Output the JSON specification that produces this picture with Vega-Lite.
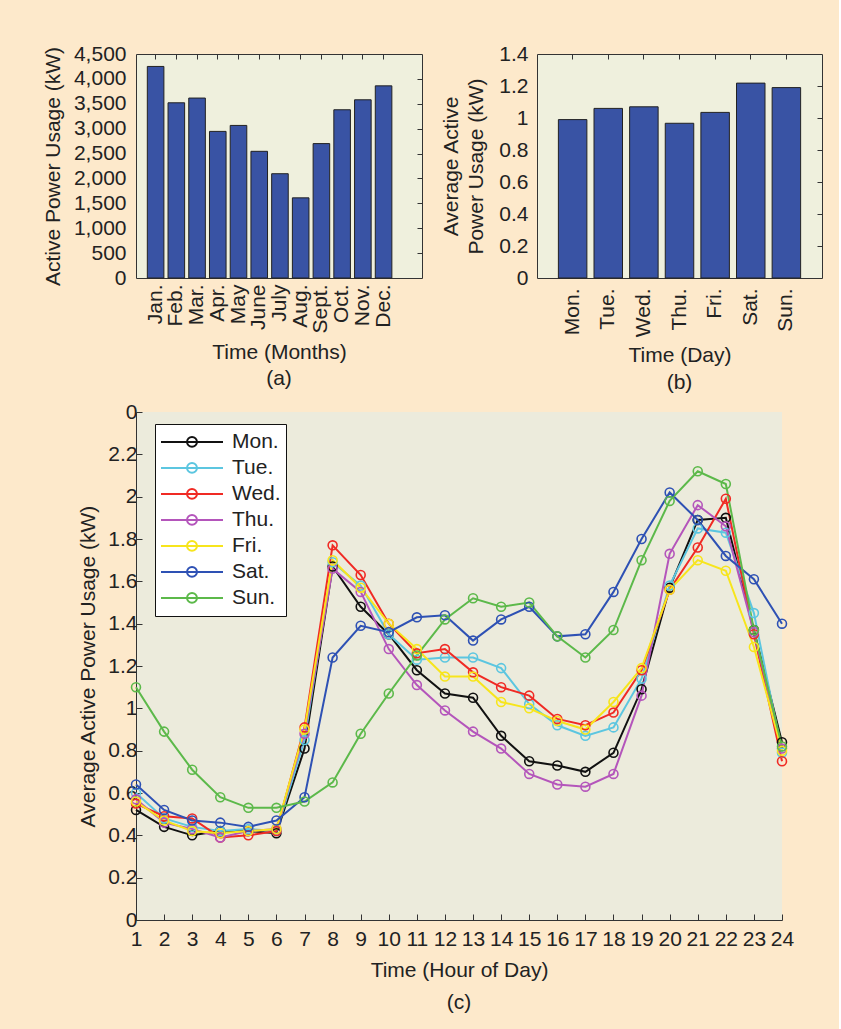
{
  "$schema": "https://vega.github.io/schema/vega-lite/v6.json",
  "background": "#fde9cb",
  "padding": {"left": 41, "top": 42, "right": 16, "bottom": 16},
  "config": {
    "font": "Liberation Sans",
    "axis": {
      "labelFont": "Liberation Sans", "titleFont": "Liberation Sans",
      "labelFontSize": 21, "titleFontSize": 21, "titleFontWeight": "normal",
      "labelColor": "#222", "titleColor": "#222",
      "domainColor": "#333", "tickColor": "#333", "grid": false
    },
    "title": {"font": "Liberation Sans", "fontSize": 21, "fontWeight": "normal", "color": "#222"},
    "view": {"stroke": null}
  },
  "datasets": {
    "monthly": [
      {"month": "Jan.", "kW": 4250}, {"month": "Feb.", "kW": 3520}, {"month": "Mar.", "kW": 3615},
      {"month": "Apr.", "kW": 2945}, {"month": "May", "kW": 3065}, {"month": "June", "kW": 2545},
      {"month": "July", "kW": 2095}, {"month": "Aug.", "kW": 1610}, {"month": "Sept.", "kW": 2700},
      {"month": "Oct.", "kW": 3380}, {"month": "Nov.", "kW": 3580}, {"month": "Dec.", "kW": 3860}
    ],
    "daily": [
      {"day": "Mon.", "kW": 0.99}, {"day": "Tue.", "kW": 1.06}, {"day": "Wed.", "kW": 1.07},
      {"day": "Thu.", "kW": 0.967}, {"day": "Fri.", "kW": 1.035}, {"day": "Sat.", "kW": 1.218},
      {"day": "Sun.", "kW": 1.19}
    ],
    "hourly": [
      {"day": "Mon.", "hour": 1, "kW": 0.52}, {"day": "Mon.", "hour": 2, "kW": 0.44}, {"day": "Mon.", "hour": 3, "kW": 0.40},
      {"day": "Mon.", "hour": 4, "kW": 0.42}, {"day": "Mon.", "hour": 5, "kW": 0.42}, {"day": "Mon.", "hour": 6, "kW": 0.41},
      {"day": "Mon.", "hour": 7, "kW": 0.81}, {"day": "Mon.", "hour": 8, "kW": 1.67}, {"day": "Mon.", "hour": 9, "kW": 1.48},
      {"day": "Mon.", "hour": 10, "kW": 1.35}, {"day": "Mon.", "hour": 11, "kW": 1.18}, {"day": "Mon.", "hour": 12, "kW": 1.07},
      {"day": "Mon.", "hour": 13, "kW": 1.05}, {"day": "Mon.", "hour": 14, "kW": 0.87}, {"day": "Mon.", "hour": 15, "kW": 0.75},
      {"day": "Mon.", "hour": 16, "kW": 0.73}, {"day": "Mon.", "hour": 17, "kW": 0.70}, {"day": "Mon.", "hour": 18, "kW": 0.79},
      {"day": "Mon.", "hour": 19, "kW": 1.09}, {"day": "Mon.", "hour": 20, "kW": 1.57}, {"day": "Mon.", "hour": 21, "kW": 1.89},
      {"day": "Mon.", "hour": 22, "kW": 1.90}, {"day": "Mon.", "hour": 23, "kW": 1.37}, {"day": "Mon.", "hour": 24, "kW": 0.84},

      {"day": "Tue.", "hour": 1, "kW": 0.60}, {"day": "Tue.", "hour": 2, "kW": 0.48}, {"day": "Tue.", "hour": 3, "kW": 0.44},
      {"day": "Tue.", "hour": 4, "kW": 0.42}, {"day": "Tue.", "hour": 5, "kW": 0.43}, {"day": "Tue.", "hour": 6, "kW": 0.42},
      {"day": "Tue.", "hour": 7, "kW": 0.85}, {"day": "Tue.", "hour": 8, "kW": 1.69}, {"day": "Tue.", "hour": 9, "kW": 1.58},
      {"day": "Tue.", "hour": 10, "kW": 1.35}, {"day": "Tue.", "hour": 11, "kW": 1.23}, {"day": "Tue.", "hour": 12, "kW": 1.24},
      {"day": "Tue.", "hour": 13, "kW": 1.24}, {"day": "Tue.", "hour": 14, "kW": 1.19}, {"day": "Tue.", "hour": 15, "kW": 1.02},
      {"day": "Tue.", "hour": 16, "kW": 0.92}, {"day": "Tue.", "hour": 17, "kW": 0.87}, {"day": "Tue.", "hour": 18, "kW": 0.91},
      {"day": "Tue.", "hour": 19, "kW": 1.14}, {"day": "Tue.", "hour": 20, "kW": 1.58}, {"day": "Tue.", "hour": 21, "kW": 1.85},
      {"day": "Tue.", "hour": 22, "kW": 1.83}, {"day": "Tue.", "hour": 23, "kW": 1.45}, {"day": "Tue.", "hour": 24, "kW": 0.79},

      {"day": "Wed.", "hour": 1, "kW": 0.55}, {"day": "Wed.", "hour": 2, "kW": 0.49}, {"day": "Wed.", "hour": 3, "kW": 0.48},
      {"day": "Wed.", "hour": 4, "kW": 0.39}, {"day": "Wed.", "hour": 5, "kW": 0.40}, {"day": "Wed.", "hour": 6, "kW": 0.42},
      {"day": "Wed.", "hour": 7, "kW": 0.91}, {"day": "Wed.", "hour": 8, "kW": 1.77}, {"day": "Wed.", "hour": 9, "kW": 1.63},
      {"day": "Wed.", "hour": 10, "kW": 1.40}, {"day": "Wed.", "hour": 11, "kW": 1.26}, {"day": "Wed.", "hour": 12, "kW": 1.28},
      {"day": "Wed.", "hour": 13, "kW": 1.17}, {"day": "Wed.", "hour": 14, "kW": 1.10}, {"day": "Wed.", "hour": 15, "kW": 1.06},
      {"day": "Wed.", "hour": 16, "kW": 0.95}, {"day": "Wed.", "hour": 17, "kW": 0.92}, {"day": "Wed.", "hour": 18, "kW": 0.98},
      {"day": "Wed.", "hour": 19, "kW": 1.18}, {"day": "Wed.", "hour": 20, "kW": 1.56}, {"day": "Wed.", "hour": 21, "kW": 1.76},
      {"day": "Wed.", "hour": 22, "kW": 1.99}, {"day": "Wed.", "hour": 23, "kW": 1.35}, {"day": "Wed.", "hour": 24, "kW": 0.75},

      {"day": "Thu.", "hour": 1, "kW": 0.57}, {"day": "Thu.", "hour": 2, "kW": 0.46}, {"day": "Thu.", "hour": 3, "kW": 0.43},
      {"day": "Thu.", "hour": 4, "kW": 0.39}, {"day": "Thu.", "hour": 5, "kW": 0.42}, {"day": "Thu.", "hour": 6, "kW": 0.43},
      {"day": "Thu.", "hour": 7, "kW": 0.88}, {"day": "Thu.", "hour": 8, "kW": 1.66}, {"day": "Thu.", "hour": 9, "kW": 1.55},
      {"day": "Thu.", "hour": 10, "kW": 1.28}, {"day": "Thu.", "hour": 11, "kW": 1.11}, {"day": "Thu.", "hour": 12, "kW": 0.99},
      {"day": "Thu.", "hour": 13, "kW": 0.89}, {"day": "Thu.", "hour": 14, "kW": 0.81}, {"day": "Thu.", "hour": 15, "kW": 0.69},
      {"day": "Thu.", "hour": 16, "kW": 0.64}, {"day": "Thu.", "hour": 17, "kW": 0.63}, {"day": "Thu.", "hour": 18, "kW": 0.69},
      {"day": "Thu.", "hour": 19, "kW": 1.06}, {"day": "Thu.", "hour": 20, "kW": 1.73}, {"day": "Thu.", "hour": 21, "kW": 1.96},
      {"day": "Thu.", "hour": 22, "kW": 1.86}, {"day": "Thu.", "hour": 23, "kW": 1.36}, {"day": "Thu.", "hour": 24, "kW": 0.81},

      {"day": "Fri.", "hour": 1, "kW": 0.56}, {"day": "Fri.", "hour": 2, "kW": 0.47}, {"day": "Fri.", "hour": 3, "kW": 0.42},
      {"day": "Fri.", "hour": 4, "kW": 0.41}, {"day": "Fri.", "hour": 5, "kW": 0.42}, {"day": "Fri.", "hour": 6, "kW": 0.43},
      {"day": "Fri.", "hour": 7, "kW": 0.90}, {"day": "Fri.", "hour": 8, "kW": 1.70}, {"day": "Fri.", "hour": 9, "kW": 1.57},
      {"day": "Fri.", "hour": 10, "kW": 1.40}, {"day": "Fri.", "hour": 11, "kW": 1.28}, {"day": "Fri.", "hour": 12, "kW": 1.15},
      {"day": "Fri.", "hour": 13, "kW": 1.15}, {"day": "Fri.", "hour": 14, "kW": 1.03}, {"day": "Fri.", "hour": 15, "kW": 1.00},
      {"day": "Fri.", "hour": 16, "kW": 0.94}, {"day": "Fri.", "hour": 17, "kW": 0.90}, {"day": "Fri.", "hour": 18, "kW": 1.03},
      {"day": "Fri.", "hour": 19, "kW": 1.19}, {"day": "Fri.", "hour": 20, "kW": 1.56}, {"day": "Fri.", "hour": 21, "kW": 1.70},
      {"day": "Fri.", "hour": 22, "kW": 1.65}, {"day": "Fri.", "hour": 23, "kW": 1.29}, {"day": "Fri.", "hour": 24, "kW": 0.80},

      {"day": "Sat.", "hour": 1, "kW": 0.64}, {"day": "Sat.", "hour": 2, "kW": 0.52}, {"day": "Sat.", "hour": 3, "kW": 0.47},
      {"day": "Sat.", "hour": 4, "kW": 0.46}, {"day": "Sat.", "hour": 5, "kW": 0.44}, {"day": "Sat.", "hour": 6, "kW": 0.47},
      {"day": "Sat.", "hour": 7, "kW": 0.58}, {"day": "Sat.", "hour": 8, "kW": 1.24}, {"day": "Sat.", "hour": 9, "kW": 1.39},
      {"day": "Sat.", "hour": 10, "kW": 1.36}, {"day": "Sat.", "hour": 11, "kW": 1.43}, {"day": "Sat.", "hour": 12, "kW": 1.44},
      {"day": "Sat.", "hour": 13, "kW": 1.32}, {"day": "Sat.", "hour": 14, "kW": 1.42}, {"day": "Sat.", "hour": 15, "kW": 1.48},
      {"day": "Sat.", "hour": 16, "kW": 1.34}, {"day": "Sat.", "hour": 17, "kW": 1.35}, {"day": "Sat.", "hour": 18, "kW": 1.55},
      {"day": "Sat.", "hour": 19, "kW": 1.80}, {"day": "Sat.", "hour": 20, "kW": 2.02}, {"day": "Sat.", "hour": 21, "kW": 1.89},
      {"day": "Sat.", "hour": 22, "kW": 1.72}, {"day": "Sat.", "hour": 23, "kW": 1.61}, {"day": "Sat.", "hour": 24, "kW": 1.40},

      {"day": "Sun.", "hour": 1, "kW": 1.10}, {"day": "Sun.", "hour": 2, "kW": 0.89}, {"day": "Sun.", "hour": 3, "kW": 0.71},
      {"day": "Sun.", "hour": 4, "kW": 0.58}, {"day": "Sun.", "hour": 5, "kW": 0.53}, {"day": "Sun.", "hour": 6, "kW": 0.53},
      {"day": "Sun.", "hour": 7, "kW": 0.56}, {"day": "Sun.", "hour": 8, "kW": 0.65}, {"day": "Sun.", "hour": 9, "kW": 0.88},
      {"day": "Sun.", "hour": 10, "kW": 1.07}, {"day": "Sun.", "hour": 11, "kW": 1.25}, {"day": "Sun.", "hour": 12, "kW": 1.42},
      {"day": "Sun.", "hour": 13, "kW": 1.52}, {"day": "Sun.", "hour": 14, "kW": 1.48}, {"day": "Sun.", "hour": 15, "kW": 1.50},
      {"day": "Sun.", "hour": 16, "kW": 1.34}, {"day": "Sun.", "hour": 17, "kW": 1.24}, {"day": "Sun.", "hour": 18, "kW": 1.37},
      {"day": "Sun.", "hour": 19, "kW": 1.70}, {"day": "Sun.", "hour": 20, "kW": 1.98}, {"day": "Sun.", "hour": 21, "kW": 2.12},
      {"day": "Sun.", "hour": 22, "kW": 2.06}, {"day": "Sun.", "hour": 23, "kW": 1.37}, {"day": "Sun.", "hour": 24, "kW": 0.82}
    ]
  },
  "spacing": 7,
  "resolve": {"legend": {"color": "independent"}},
  "vconcat": [
    {
      "spacing": 17,
      "hconcat": [
        {
          "width": 286, "height": 224,
          "view": {"fill": "#eff0dd", "stroke": "#333", "strokeWidth": 1},
          "data": {"name": "monthly"},
          "title": {"text": "(a)", "orient": "bottom", "frame": "group", "offset": 6},
          "layer": [
            {
              "mark": {"type": "bar", "fill": "#3953a4", "stroke": "#222", "strokeWidth": 1},
              "encoding": {
                "x": {
                  "field": "month", "type": "nominal", "sort": null,
                  "scale": {"paddingInner": 0.2, "paddingOuter": 1.1, "align": 0.273},
                  "axis": {"title": "Time (Months)", "labelAngle": 270, "labelAlign": "right", "labelBaseline": "middle",
                           "ticks": false, "domain": false, "labelPadding": 6, "titlePadding": 8, "labelOverlap": false}
                },
                "y": {
                  "field": "kW", "type": "quantitative",
                  "scale": {"domain": [0, 4500], "nice": false},
                  "axis": {"title": "Active Power Usage (kW)", "values": [0, 500, 1000, 1500, 2000, 2500, 3000, 3500, 4000, 4500],
                           "format": ",d", "ticks": false, "domain": false, "labelPadding": 10, "titlePadding": 10}
                }
              }
            },
            {
              "mark": {"type": "bar", "opacity": 0},
              "encoding": {
                "x": {"field": "month", "type": "nominal", "sort": null,
                      "axis": {"orient": "top", "labels": false, "title": null, "domain": false, "tickSize": -5}},
                "y": {"field": "kW", "type": "quantitative",
                      "axis": {"orient": "right", "labels": false, "title": null, "domain": false, "tickSize": -5,
                               "values": [500, 1000, 1500, 2000, 2500, 3000, 3500, 4000]}}
              }
            }
          ],
          "resolve": {"axis": {"x": "independent", "y": "independent"}}
        },
        {
          "width": 285, "height": 224,
          "view": {"fill": "#eff0dd", "stroke": "#333", "strokeWidth": 1},
          "data": {"name": "daily"},
          "title": {"text": "(b)", "orient": "bottom", "frame": "group", "offset": 6},
          "layer": [
            {
              "mark": {"type": "bar", "fill": "#3953a4", "stroke": "#222", "strokeWidth": 1},
              "encoding": {
                "x": {
                  "field": "day", "type": "nominal", "sort": null,
                  "scale": {"paddingInner": 0.2, "paddingOuter": 0.6, "align": 0.5},
                  "axis": {"title": "Time (Day)", "labelAngle": 270, "labelAlign": "right", "labelBaseline": "middle",
                           "ticks": false, "domain": false, "labelPadding": 10, "titlePadding": 8, "labelOverlap": false}
                },
                "y": {
                  "field": "kW", "type": "quantitative",
                  "scale": {"domain": [0, 1.4], "nice": false},
                  "axis": {"title": ["Average Active", "Power Usage (kW)"], "titleLineHeight": 25,
                           "values": [0, 0.2, 0.4, 0.6, 0.8, 1, 1.2, 1.4], "format": ".1~f",
                           "ticks": false, "domain": false, "labelPadding": 9, "titlePadding": 12}
                }
              }
            },
            {
              "mark": {"type": "bar", "opacity": 0},
              "encoding": {
                "x": {"field": "day", "type": "nominal", "sort": null,
                      "axis": {"orient": "top", "labels": false, "title": null, "domain": false, "tickSize": -5}},
                "y": {"field": "kW", "type": "quantitative",
                      "axis": {"orient": "right", "labels": false, "title": null, "domain": false, "tickSize": -5,
                               "values": [0.2, 0.4, 0.6, 0.8, 1, 1.2]}}
              }
            }
          ],
          "resolve": {"axis": {"x": "independent", "y": "independent"}}
        }
      ]
    },
    {
      "width": 646, "height": 508,
      "view": {"fill": "#ecebdc", "stroke": null},
      "data": {"name": "hourly"},
      "title": {"text": "(c)", "orient": "bottom", "frame": "group", "offset": 12},
      "encoding": {
        "x": {
          "field": "hour", "type": "quantitative",
          "scale": {"domain": [1, 24], "nice": false, "zero": false},
          "axis": {"title": "Time (Hour of Day)", "values": [1, 2, 3, 4, 5, 6, 7, 8, 9, 10, 11, 12, 13, 14, 15, 16, 17, 18, 19, 20, 21, 22, 23, 24],
                   "tickSize": -6, "labelPadding": 14, "titlePadding": 10, "labelOverlap": false, "labelFlush": false}
        },
        "y": {
          "field": "kW", "type": "quantitative",
          "scale": {"domain": [0, 2.4], "nice": false},
          "axis": {"title": "Average Active Power Usage (kW)",
                   "values": [0, 0.2, 0.4, 0.6, 0.8, 1, 1.2, 1.4, 1.6, 1.8, 2, 2.2, 2.4],
                   "labelExpr": "datum.value > 2.3 ? '0' : format(datum.value, '.1~f')",
                   "tickSize": -6, "labelPadding": 5, "titlePadding": 9, "labelFlush": false}
        },
        "color": {
          "field": "day", "type": "nominal",
          "scale": {
            "domain": ["Mon.", "Tue.", "Wed.", "Thu.", "Fri.", "Sat.", "Sun."],
            "range": ["#111111", "#5cc6e0", "#f02a24", "#b455bb", "#f7e51c", "#2e51b4", "#5cb94a"]
          },
          "legend": {
            "title": null, "orient": "none", "legendX": 19, "legendY": 12,
            "fillColor": "#ffffff", "strokeColor": "#111111", "padding": 5, "cornerRadius": 0,
            "symbolType": "M-1,0H1M0.16,0A0.16,0.16,0,1,1,-0.16,0A0.16,0.16,0,1,1,0.16,0",
            "symbolSize": 3844, "symbolStrokeWidth": 2, "symbolFillColor": "transparent",
            "labelFontSize": 21, "labelFont": "Liberation Sans", "labelColor": "#222", "labelOffset": 8,
            "clipHeight": 25.8, "rowPadding": 0
          }
        }
      },
      "layer": [
        {"mark": {"type": "line", "strokeWidth": 2}},
        {"mark": {"type": "point", "filled": false, "size": 80, "strokeWidth": 1.6, "opacity": 1}}
      ]
    }
  ]
}
